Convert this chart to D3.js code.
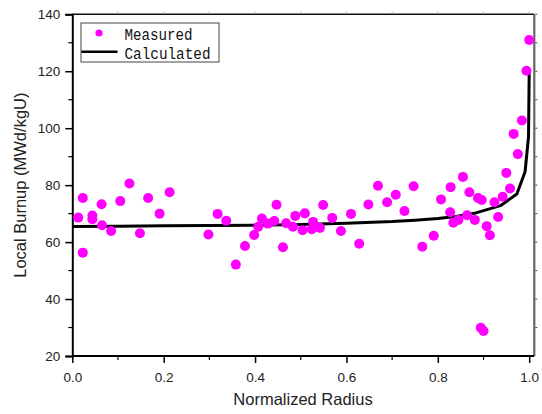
<!DOCTYPE html>
<html>
<head>
<meta charset="utf-8">
<script src="https://cdn.jsdelivr.net/npm/d3@7"></script>
<style>
	body { margin: 0; background: #fff; }
	svg { display: block; }
	.tick text { font-family: "Liberation Sans", Arial, sans-serif; font-size: 13.5px; fill: #222; }
	.title { font-family: "Liberation Sans", Arial, sans-serif; font-size: 16.5px; fill: #222; }
	.legend { font-family: "Liberation Mono", monospace; font-size: 16px; fill: #111; }
</style>
</head>
<body>
<svg id="chart" width="542" height="414"></svg>
<script>
	// measured points (normalized radius, burnup)
	let measuredX = [ 0.013, 0.023, 0.023, 0.044, 0.044, 0.064, 0.065, 0.085, 0.105, 0.125, 0.148, 0.166, 0.191, 0.213,
		0.298, 0.318, 0.337, 0.358, 0.378, 0.398, 0.407, 0.415, 0.428, 0.442, 0.447, 0.461, 0.468, 0.483, 0.488,
		0.504, 0.509, 0.524, 0.527, 0.542, 0.549, 0.569, 0.588, 0.610, 0.628, 0.648, 0.669, 0.689, 0.708, 0.727,
		0.747, 0.766, 0.791, 0.807, 0.828, 0.855, 0.827, 0.834, 0.845, 0.864, 0.869, 0.881, 0.888, 0.896, 0.907,
		0.914, 0.924, 0.932, 0.942, 0.958, 0.950, 1.000, 0.994, 0.984, 0.966, 0.975, 0.894, 0.900 ];
	let measuredY = [ 68.6, 56.3, 75.5, 69.3, 68.0, 73.3, 65.9, 63.9, 74.4, 80.6, 63.1, 75.5, 70.0, 77.5,
		62.7, 69.9, 67.5, 52.1, 58.6, 62.5, 65.4, 68.3, 66.5, 67.4, 73.1, 58.2, 66.6, 65.4, 69.2,
		64.2, 70.1, 64.5, 67.1, 65.0, 73.0, 68.5, 63.9, 69.9, 59.4, 73.2, 79.8, 74.0, 76.6, 70.9,
		79.6, 58.4, 62.2, 75.0, 79.3, 82.9, 70.5, 66.8, 67.8, 69.4, 77.5, 67.8, 75.5, 74.8, 65.6,
		62.4, 74.0, 68.8, 75.9, 78.8, 84.3, 131.0, 120.2, 102.7, 98.0, 90.9, 29.9, 28.8 ];

	// calculated curve
	let calcX = [ 0, 0.1, 0.2, 0.3, 0.4, 0.5, 0.6, 0.7, 0.75, 0.8, 0.84, 0.88, 0.937, 0.973, 0.991, 0.9985, 1.0 ];
	let calcY = [ 65.5, 65.6, 65.7, 65.8, 65.9, 66.2, 66.6, 67.2, 67.7, 68.3, 69.0, 70.1, 72.8, 76.9, 84.7, 97, 120.2 ];

	let xTicks = [ 0.0, 0.2, 0.4, 0.6, 0.8, 1.0 ],
		yTicks = [ 20, 40, 60, 80, 100, 120, 140 ];

	let svg = d3.select( '#chart' ),
		pLeft = 72.3, pRight = 534.3, pTop = 14.3, pBottom = 356;

	let x = d3.scaleLinear().domain( [ 0, 1 ] ).range( [ pLeft, 529.2 ] ),
		y = d3.scaleLinear().domain( [ 20, 140 ] ).range( [ pBottom, pTop ] );

	// top / right frame with small ticks
	svg.append( 'line' ).attr( 'x1', pLeft ).attr( 'x2', pRight ).attr( 'y1', pTop ).attr( 'y2', pTop )
		.style( 'stroke', '#111' ).style( 'stroke-width', 1.6 );
	svg.append( 'line' ).attr( 'x1', pRight ).attr( 'x2', pRight ).attr( 'y1', pTop ).attr( 'y2', pBottom )
		.style( 'stroke', '#666' ).style( 'stroke-width', 2.2 );

	svg.selectAll( '.topTick' ).data( d3.range( 1, 11 ).map( d => d / 10 ) )
		.enter().append( 'line' )
		.attr( 'x1', d => x( d ) ).attr( 'x2', d => x( d ) )
		.attr( 'y1', pTop - 0.8 ).attr( 'y2', pTop - 3 )
		.style( 'stroke', '#bbb' ).style( 'stroke-width', 1 );

	svg.selectAll( '.rightTick' ).data( d3.range( 30, 141, 10 ) )
		.enter().append( 'line' )
		.attr( 'x1', pRight + 1 ).attr( 'x2', pRight + 3 )
		.attr( 'y1', d => y( d ) ).attr( 'y2', d => y( d ) )
		.style( 'stroke', '#444' ).style( 'stroke-width', 1 );

	// axes
	let xAxis = svg.append( 'g' ).attr( 'transform', 'translate(0,' + pBottom + ')' )
		.call( d3.axisBottom( x ).tickValues( xTicks ).tickFormat( d3.format( '.1f' ) ).tickSize( 7 ).tickPadding( 9 ) );
	let yAxis = svg.append( 'g' ).attr( 'transform', 'translate(' + pLeft + ',0)' )
		.call( d3.axisLeft( y ).tickValues( yTicks ).tickSize( 7 ).tickPadding( 5 ) );

	[ xAxis, yAxis ].forEach( g => {
		g.select( '.domain' ).style( 'stroke', '#000' ).style( 'stroke-width', 2 );
		g.selectAll( '.tick line' ).style( 'stroke', '#000' ).style( 'stroke-width', 1.5 );
	} );
	xAxis.select( '.domain' ).attr( 'd', 'M' + pLeft + ',0H' + pRight );

	// minor ticks
	svg.selectAll( '.xMinor' ).data( [ 0.1, 0.3, 0.5, 0.7, 0.9 ] )
		.enter().append( 'line' )
		.attr( 'x1', d => x( d ) ).attr( 'x2', d => x( d ) )
		.attr( 'y1', pBottom ).attr( 'y2', pBottom + 4 )
		.style( 'stroke', '#000' ).style( 'stroke-width', 1.2 );
	svg.selectAll( '.yMinor' ).data( [ 30, 50, 70, 90, 110, 130 ] )
		.enter().append( 'line' )
		.attr( 'x1', pLeft ).attr( 'x2', pLeft - 4 )
		.attr( 'y1', d => y( d ) ).attr( 'y2', d => y( d ) )
		.style( 'stroke', '#000' ).style( 'stroke-width', 1.2 );

	// calculated line
	let line = d3.line().x( d => x( d[ 0 ] ) ).y( d => y( d[ 1 ] ) );
	svg.append( 'path' ).datum( calcX.map( ( d, i ) => [ d, calcY[ i ] ] ) )
		.attr( 'd', line )
		.style( 'fill', 'none' ).style( 'stroke', '#000' ).style( 'stroke-width', 3 )
		.style( 'stroke-linejoin', 'round' );

	// measured points
	svg.selectAll( '.pt' ).data( measuredX.map( ( d, i ) => [ d, measuredY[ i ] ] ) )
		.enter().append( 'circle' )
		.attr( 'cx', d => x( d[ 0 ] ) )
		.attr( 'cy', d => y( d[ 1 ] ) )
		.attr( 'r', 5 )
		.style( 'fill', '#ff00ff' );

	// axis titles
	svg.append( 'text' ).attr( 'class', 'title' )
		.attr( 'x', 303 ).attr( 'y', 405 ).attr( 'text-anchor', 'middle' )
		.text( 'Normalized Radius' );
	svg.append( 'text' ).attr( 'class', 'title' )
		.attr( 'transform', 'translate(26,' + ( ( pTop + pBottom ) / 2 ) + ') rotate(-90)' )
		.attr( 'text-anchor', 'middle' )
		.text( 'Local Burnup (MWd/kgU)' );

	// legend
	let legend = svg.append( 'g' );
	legend.append( 'rect' ).attr( 'x', 81 ).attr( 'y', 23 ).attr( 'width', 138 ).attr( 'height', 39 )
		.style( 'fill', '#fff' ).style( 'stroke', '#444' ).style( 'stroke-width', 1 );
	legend.append( 'circle' ).attr( 'cx', 99 ).attr( 'cy', 33 ).attr( 'r', 3.6 ).style( 'fill', '#ff00ff' );
	legend.append( 'line' ).attr( 'x1', 81.5 ).attr( 'x2', 117.5 ).attr( 'y1', 51.7 ).attr( 'y2', 51.7 )
		.style( 'stroke', '#000' ).style( 'stroke-width', 2.5 );
	legend.append( 'text' ).attr( 'class', 'legend' ).attr( 'x', 124.5 ).attr( 'y', 39.5 )
		.attr( 'textLength', 68 ).attr( 'lengthAdjust', 'spacingAndGlyphs' ).text( 'Measured' );
	legend.append( 'text' ).attr( 'class', 'legend' ).attr( 'x', 124.5 ).attr( 'y', 58.5 )
		.attr( 'textLength', 86 ).attr( 'lengthAdjust', 'spacingAndGlyphs' ).text( 'Calculated' );
</script>
</body>
</html>
